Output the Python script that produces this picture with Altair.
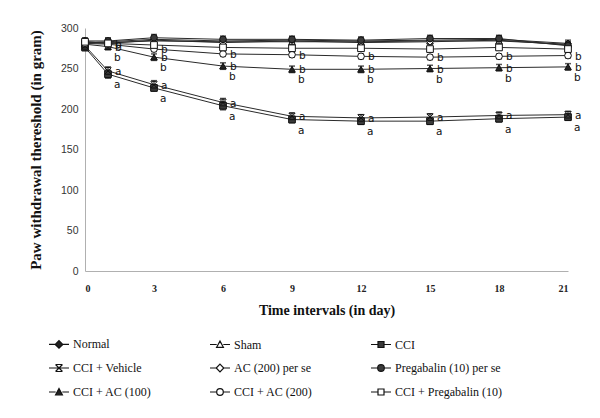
import altair as alt
import pandas as pd

days = [0, 1, 3, 6, 9, 12, 15, 18, 21]
groups = ["Normal", "Sham", "CCI", "CCI + Vehicle", "AC (200) per se",
          "Pregabalin (10) per se", "CCI + AC (100)", "CCI + AC (200)",
          "CCI + Pregabalin (10)"]

normal = [282, 283, 286, 284, 285, 284, 285, 286, 281]
sham = [281, 282, 284, 283, 283, 283, 284, 284, 280]
cci = [276, 243, 226, 204, 187, 185, 185, 188, 190]
cci_vehicle = [278, 247, 230, 208, 191, 189, 190, 192, 193]
ac200_perse = [283, 281, 285, 282, 284, 282, 283, 285, 279]
pregabalin_perse = [284, 284, 288, 286, 286, 285, 287, 287, 278]
cci_ac100 = [280, 277, 264, 253, 249, 249, 250, 251, 252]
cci_ac200 = [281, 280, 274, 268, 267, 265, 264, 265, 266]
cci_pregabalin = [283, 281, 279, 276, 275, 275, 274, 276, 274]
series_values = [normal, sham, cci, cci_vehicle, ac200_perse,
                 pregabalin_perse, cci_ac100, cci_ac200, cci_pregabalin]

err_normal = [4, 4, 4, 4, 4, 3, 4, 4, 4]
err_sham = [3, 3, 3, 3, 3, 3, 3, 3, 3]
err_cci = [4, 5, 4, 5, 4, 4, 4, 4, 4]
err_cci_vehicle = [4, 5, 5, 5, 4, 4, 4, 4, 4]
err_ac200_perse = [3, 3, 3, 3, 3, 3, 3, 3, 3]
err_pregabalin_perse = [4, 4, 4, 4, 4, 4, 4, 4, 4]
err_cci_ac100 = [4, 4, 4, 4, 4, 4, 4, 4, 4]
err_cci_ac200 = [3, 3, 3, 3, 3, 3, 3, 3, 3]
err_cci_pregabalin = [3, 3, 3, 3, 3, 3, 3, 3, 3]
series_errors = [err_normal, err_sham, err_cci, err_cci_vehicle, err_ac200_perse,
                 err_pregabalin_perse, err_cci_ac100, err_cci_ac200, err_cci_pregabalin]

# significance letters
label_series = ["CCI + Vehicle", "CCI", "CCI + AC (200)", "CCI + AC (100)", "CCI + AC (100)"]
label_letters = ["a", "a", "b", "b", "b"]
label_place = ["beside", "below", "beside", "beside", "below"]

x_ticks = [0, 3, 6, 9, 12, 15, 18, 21]
y_ticks = [0, 50, 100, 150, 200, 250, 300]

# ---- styles ----
plot_shapes = ["diamond", "triangle-up", "square",
               "M-1,-1L1,1M1,-1L-1,1M-0.8,-1H0.8M-0.8,1H0.8",
               "diamond", "circle", "triangle-up", "circle", "square"]
fills = ["#222222", "white", "#3a3a3a", "#222222", "white", "#3a3a3a",
         "#222222", "white", "white"]
legend_shapes = [
    "M-1,0H-0.38M0.38,0H1M0,-0.38L0.38,0L0,0.38L-0.38,0Z",
    "M-1,0H-0.33M0.33,0H1M0,-0.34L0.34,0.28L-0.34,0.28Z",
    "M-1,0H-0.3M0.3,0H1M-0.3,-0.3H0.3V0.3H-0.3Z",
    "M-1,0H1M-0.35,-0.35L0.35,0.35M0.35,-0.35L-0.35,0.35M-0.3,-0.35H0.3M-0.3,0.35H0.3",
    "M-1,0H-0.38M0.38,0H1M0,-0.38L0.38,0L0,0.38L-0.38,0Z",
    "M-1,0H-0.33M0.33,0H1M-0.33,0A0.33,0.33 0 1,0 0.33,0A0.33,0.33 0 1,0 -0.33,0Z",
    "M-1,0H-0.33M0.33,0H1M0,-0.34L0.34,0.28L-0.34,0.28Z",
    "M-1,0H-0.33M0.33,0H1M-0.33,0A0.33,0.33 0 1,0 0.33,0A0.33,0.33 0 1,0 -0.33,0Z",
    "M-1,0H-0.3M0.3,0H1M-0.3,-0.3H0.3V0.3H-0.3Z",
]

rows = []
for g, vals, errs in zip(groups, series_values, series_errors):
    for d, v, e in zip(days, vals, errs):
        rows.append({"group": g, "day": d, "value": v, "lo": v - e, "hi": v + e})
df = pd.DataFrame(rows)

beside_rows, below_rows = [], []
for s, l, p in zip(label_series, label_letters, label_place):
    vals = series_values[groups.index(s)]
    for d, v in zip(days, vals):
        if d > 0:
            (beside_rows if p == "beside" else below_rows).append(
                {"lab_series": s, "letter": l, "day": d, "value": v})
beside_df = pd.DataFrame(beside_rows)
below_df = pd.DataFrame(below_rows)

x_enc = alt.X("day:Q", scale=alt.Scale(domain=[0, 21], nice=False, zero=False),
              axis=alt.Axis(values=x_ticks, title="Time intervals (in day)", grid=False,
                            ticks=False, tickSize=0, domainColor="#b0b0b0",
                            labelFont="Liberation Serif", labelFontWeight="bold",
                            labelFontSize=10, labelColor="#222", labelPadding=12,
                            titleFont="Liberation Serif", titleFontWeight="bold",
                            titleFontSize=14, titleColor="#111", titlePadding=10))
y_enc = alt.Y("value:Q", scale=alt.Scale(domain=[0, 300], nice=False),
              axis=alt.Axis(values=y_ticks, title="Paw withdrawal thereshold (in gram)",
                            grid=False, ticks=False, tickSize=0, domainColor="#b0b0b0",
                            labelFont="Liberation Sans", labelFontSize=10.5,
                            labelColor="#333", labelPadding=7,
                            titleFont="Liberation Serif", titleFontWeight="bold",
                            titleFontSize=15, titleColor="#111", titlePadding=17))

base = alt.Chart(df)

lines = base.mark_line(color="#2a2a2a", strokeWidth=1).encode(
    x=x_enc, y=y_enc, detail="group:N")

err_rule = base.mark_rule(color="#111", strokeWidth=1).encode(
    x="day:Q", y="lo:Q", y2="hi:Q")
err_lo = base.mark_tick(orient="horizontal", size=6, thickness=1.5, color="#111").encode(
    x="day:Q", y="lo:Q")
err_hi = base.mark_tick(orient="horizontal", size=6, thickness=1.5, color="#111").encode(
    x="day:Q", y="hi:Q")

point_layers = []
for g, shp, f in zip(groups, plot_shapes, fills):
    point_layers.append(
        base.transform_filter(alt.datum.group == g).mark_point(
            shape=shp, filled=False, fill=f, fillOpacity=1, size=45, stroke="#111",
            strokeWidth=1, opacity=1).encode(x="day:Q", y="value:Q"))

leg = alt.Legend(title=None, orient="none", legendX=-37, legendY=305,
                 columns=3, direction="horizontal", gridAlign="all",
                 symbolSize=400, symbolStrokeWidth=1.2, symbolStrokeColor="#111",
                 symbolOpacity=1, symbolFillColor="white",
                 labelFont="Liberation Serif", labelFontSize=12, labelColor="#111",
                 labelOffset=3, labelLimit=300, columnPadding=26, rowPadding=6)

legend_layer = base.transform_filter("datum.day < 0").mark_point(
    filled=False, size=400, color="#111", strokeWidth=1.2, opacity=1, fillOpacity=1).encode(
    x="day:Q", y="value:Q",
    shape=alt.Shape("group:N", scale=alt.Scale(domain=groups, range=legend_shapes), legend=leg),
    fill=alt.Fill("group:N", scale=alt.Scale(domain=groups, range=fills), legend=leg),
)

lab_beside = alt.Chart(beside_df).mark_text(
    align="left", baseline="middle", dx=7, dy=1, font="DejaVu Sans", fontSize=10.5).encode(
    x="day:Q", y="value:Q", text="letter:N", color=alt.value("#111"))
lab_below = alt.Chart(below_df).mark_text(
    align="left", baseline="middle", dx=6, dy=11, font="DejaVu Sans", fontSize=10.5).encode(
    x="day:Q", y="value:Q", text="letter:N", color=alt.value("#111"))

chart = alt.layer(lines, err_rule, err_lo, err_hi, *point_layers, lab_beside, lab_below,
                  legend_layer).properties(
    width=483, height=243,
    autosize=alt.AutoSizeParams(type="none"),
    padding={"left": 77, "top": 20, "right": 24, "bottom": 139},
    background="white",
).configure_view(stroke=None)

chart.save("out.html", embed_options={"renderer": "svg", "actions": False})
